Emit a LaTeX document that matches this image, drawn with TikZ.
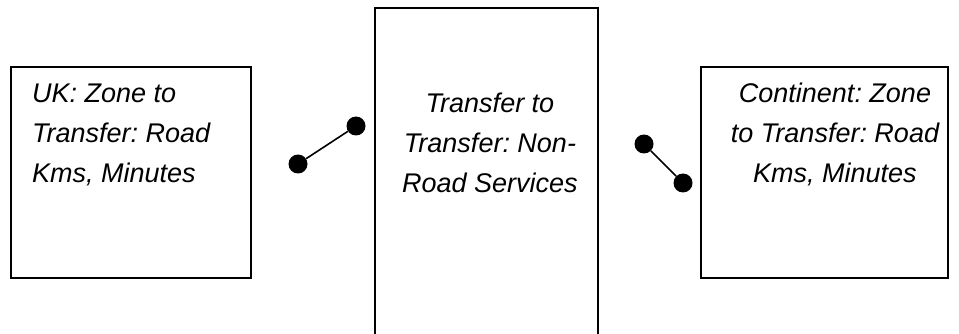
\documentclass[tikz,border=0pt]{standalone}
\usepackage{fontspec}
\setmainfont{Liberation Sans}
\frenchspacing
\begin{document}
\begin{tikzpicture}[x=1pt,y=-1pt,
  panel/.style={draw=black,line width=1.3pt,fill=white},
  label/.style={inner sep=0pt,font=\fontsize{27}{40}\selectfont\itshape},
  dot/.style={circle,fill=black,inner sep=0pt,minimum size=19pt},
  link/.style={line width=1.6pt}]
\useasboundingbox (0,0) rectangle (959,334);
% three process boxes
\draw[panel] (11,67) rectangle (251,278);
\draw[panel] (375,8) rectangle (598,340);
\draw[panel] (701,67) rectangle (948,278);
% box texts (first baseline fixes the position)
\node[label,anchor=base west] (uk) at (32,103)
  {\vtop{\hbox{UK: Zone to}\hbox{Transfer: Road}\hbox{Kms, Minutes}}};
\node[label,anchor=base] (mid) at (490,113)
  {\vtop{\halign{\hfil#\hfil\cr Transfer to\cr Transfer: Non-\cr Road Services\cr}}};
\node[label,anchor=base] (cont) at (835,103)
  {\vtop{\halign{\hfil#\hfil\cr Continent: Zone\cr to Transfer: Road\cr Kms, Minutes\cr}}};
% links between the boxes
\node[dot] (l1) at (298,164) {};
\node[dot] (l2) at (356,126) {};
\node[dot] (r1) at (644,144) {};
\node[dot] (r2) at (683,183) {};
\draw[link] (l1) -- (l2);
\draw[link] (r1) -- (r2);
\end{tikzpicture}
\end{document}
